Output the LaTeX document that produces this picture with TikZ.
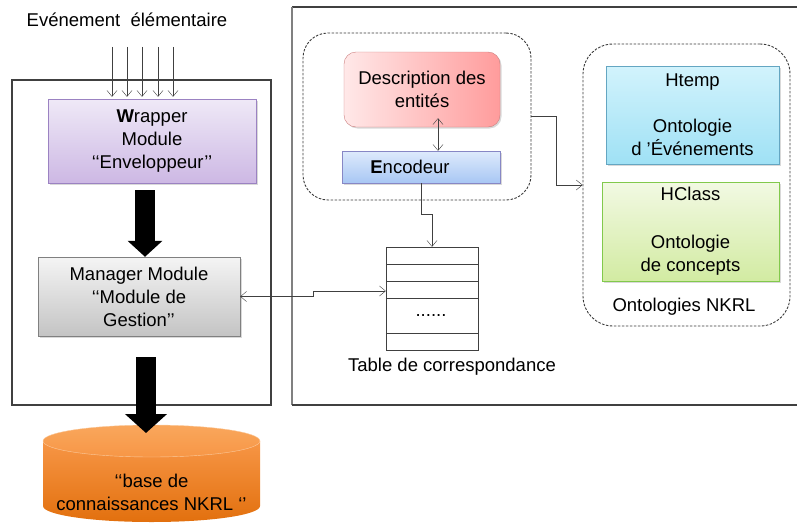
\documentclass[tikz,border=0pt]{standalone}
\usepackage{fontspec}
\setmainfont{Liberation Sans}
\usetikzlibrary{arrows.meta,shadows}
\definecolor{framegray}{HTML}{404040}
\definecolor{dashgray}{HTML}{3A3A3A}
\definecolor{wraptop}{HTML}{EFE9F7}
\definecolor{wrapbot}{HTML}{CDB8E4}
\definecolor{wrapline}{HTML}{9B82C2}
\definecolor{mgrtop}{HTML}{F4F4F4}
\definecolor{mgrbot}{HTML}{C4C4C4}
\definecolor{desclt}{HTML}{FFE8E8}
\definecolor{descrt}{HTML}{FF9C9C}
\definecolor{enctop}{HTML}{DEEAFC}
\definecolor{encbot}{HTML}{A8C7F4}
\definecolor{htmptop}{HTML}{D2F3FC}
\definecolor{htmpbot}{HTML}{9FE1F5}
\definecolor{hcltop}{HTML}{F2F9E3}
\definecolor{hclbot}{HTML}{D2EBA2}
\definecolor{dbtop}{HTML}{F9A75C}
\definecolor{dbmid}{HTML}{F79646}
\definecolor{dbbot}{HTML}{E2700E}
\tikzset{
  txt/.style={font=\fontsize{18.5}{23}\selectfont},
  modbox/.style={draw, txt, align=center, inner sep=0pt,
    drop shadow={opacity=0.3, shadow xshift=1.5pt, shadow yshift=-1.5pt}},
  grpbox/.style={draw=dashgray, line width=0.9pt, dash pattern=on 2.5pt off 1.5pt, inner sep=0pt},
  thinarr/.style={draw=framegray, -{Straight Barb[length=6pt,width=10pt]}},
  bigarr/.style={line width=20pt, -{Triangle[width=34pt,length=16pt]}},
}
\begin{document}
\begin{tikzpicture}[x=1pt,y=-1pt]
\useasboundingbox (0,0) rectangle (797,525);
% frames
\draw[framegray, line width=1.1pt] (12,80) rectangle (271,405);
\draw[framegray, line width=1.1pt] (797,7) -- (292,7);
\draw[gray, line width=1.6pt] (292,7) -- (292,405);
\draw[framegray, line width=1.1pt] (292,405) -- (797,405);
\node[txt] (title) at (127,20) {Evénement\ \ élémentaire};
% left column
\node[modbox, draw=wrapline, top color=wraptop, bottom color=wrapbot,
  minimum width=208pt, minimum height=84pt] (wrap) at (152,141)
  {\textbf{W}rapper\\Module\\‘‘Enveloppeur’’};
\node[modbox, draw=gray, top color=mgrtop, bottom color=mgrbot,
  minimum width=202pt, minimum height=79pt] (mgr) at (139,296.5)
  {Manager Module\\‘‘Module de\\Gestion’’};
\foreach \x in {-40,-25,-10,6,21}
  \draw[thinarr] ([xshift=\x pt,yshift=52pt]wrap.north) -- ([xshift=\x pt,yshift=2pt]wrap.north);
\draw[bigarr] ([xshift=-7pt,yshift=-7pt]wrap.south) -- ([xshift=6pt]mgr.north);
% base
\shade[top color=dbmid, bottom color=dbbot] (43,441) -- (43,506)
  arc[start angle=180, end angle=0, x radius=108.5, y radius=16] -- (260,441) -- cycle;
\shade[top color=dbtop, bottom color=dbmid, draw=dbtop!60!white]
  (151.5,441) ellipse[x radius=108.5, y radius=16];
\node[txt, align=center] (db) at (151.5,492) {‘‘base de\\connaissances NKRL ‘’};
\coordinate (dbin) at (146,433);
\draw[bigarr, -{Triangle[width=41pt,length=19pt]}] ([xshift=7pt,yshift=-21pt]mgr.south) -- (dbin);
% encoder group
\node[grpbox, rounded corners=25pt, minimum width=228pt, minimum height=167pt] (encgrp) at (417,116.5) {};
\node[modbox, draw=descrt!80!black, left color=desclt, right color=descrt, rounded corners=12pt,
  minimum width=156pt, minimum height=75pt] (desc) at (422,89.5) {Description des\\entités};
\node[draw=blue!35!gray!70, txt, inner sep=0pt, top color=enctop, bottom color=encbot,
  drop shadow={opacity=0.3, shadow xshift=1.5pt, shadow yshift=-1.5pt},
  minimum width=158pt, minimum height=32pt] (enc) at (421,167) {\textbf{E}ncodeur\hspace*{22pt}};
\draw[thinarr, {Straight Barb[length=6pt,width=10pt]}-{Straight Barb[length=6pt,width=10pt]}]
  ([xshift=16pt,yshift=9pt]desc.south) -- ([xshift=17pt]enc.north);
% table
\node[draw=framegray, minimum width=92pt, minimum height=103pt, inner sep=0pt] (tbl) at (432,298.5) {};
\foreach \y in {17,34,51,86}
  \draw[framegray] ([yshift=-\y pt]tbl.north west) -- ([yshift=-\y pt]tbl.north east);
\node[txt] (dots) at (431,316) {......};
\node[txt] (tbllabel) at (452,367) {Table de correspondance};
\draw[thinarr] (enc.south) -- ++(0,31) -| (tbl.north);
\draw[thinarr, {Straight Barb[length=6pt,width=10pt]}-{Straight Barb[length=6pt,width=10pt]}]
  (mgr.east) -- ++(73,0) |- ([yshift=7.5pt]tbl.west);
% ontologies
\node[grpbox, rounded corners=30pt, minimum width=207pt, minimum height=282pt] (ontgrp) at (686.5,185) {};
\node[modbox, draw=cyan!50!gray, top color=htmptop, bottom color=htmpbot,
  minimum width=173pt, minimum height=98pt] (htemp) at (692.5,115)
  {Htemp\\[23pt]Ontologie\\d ’Événements};
\node[modbox, draw=green!40!olive!70, top color=hcltop, bottom color=hclbot,
  minimum width=177pt, minimum height=99pt] (hclass) at (690.5,231.5)
  {HClass\\[25pt]Ontologie\\de concepts};
\node[txt] (ontlabel) at (684,307) {Ontologies NKRL};
\draw[thinarr] (encgrp.east) -- ++(25,0) |- (ontgrp.west);
\end{tikzpicture}
\end{document}
